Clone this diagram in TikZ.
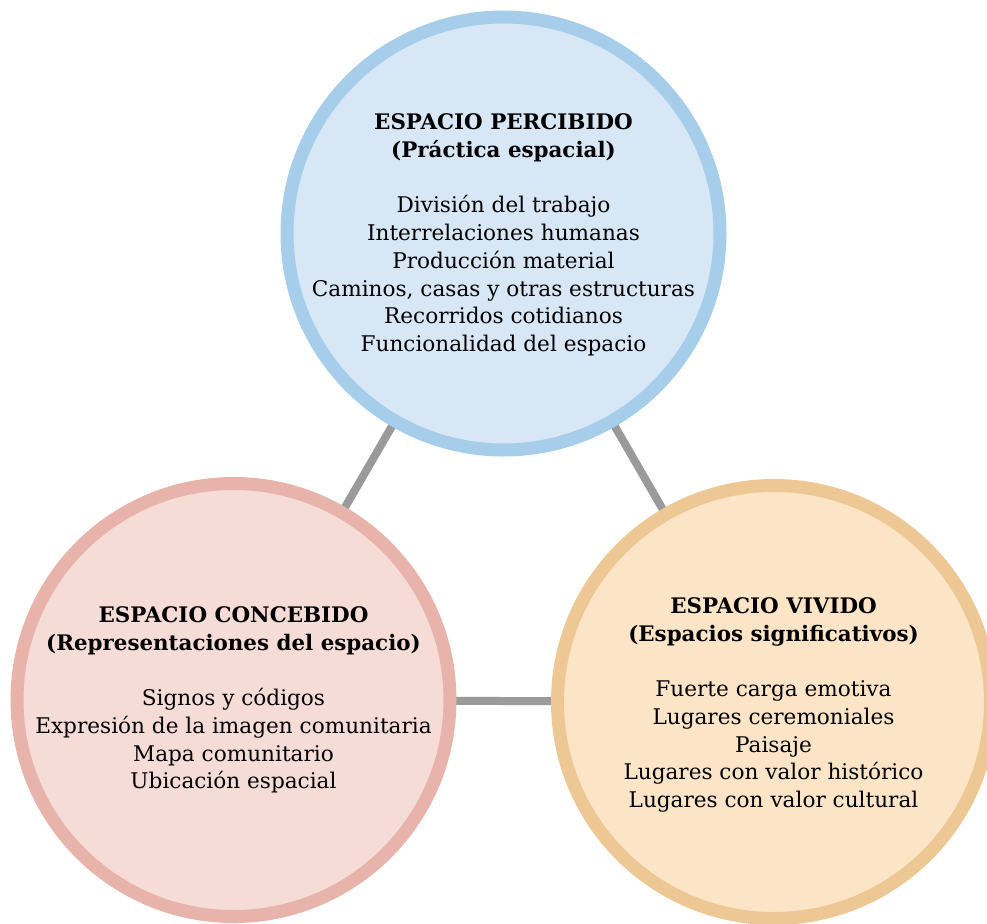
\documentclass[tikz,border=0pt]{standalone}
\usepackage{fontspec}
\setmainfont{DejaVu Serif}
\usetikzlibrary{backgrounds}
\definecolor{bluefill}{HTML}{D7E7F6}
\definecolor{blueline}{HTML}{A6CDE9}
\definecolor{pinkfill}{HTML}{F5DCD7}
\definecolor{pinkline}{HTML}{E8B3AA}
\definecolor{orangefill}{HTML}{FCE5C7}
\definecolor{orangeline}{HTML}{EDC894}
\definecolor{linkgray}{HTML}{9A9A9A}
\tikzset{
  bubble/.style={circle, inner sep=0pt, minimum size=433pt, line width=13pt},
  label text/.style={align=center, font=\fontsize{21.6}{27.7}\selectfont, inner sep=0pt},
  link/.style={draw=linkgray, line width=8pt}
}
\newcommand{\hd}[1]{{\bfseries\fontsize{21.4}{27.7}\selectfont #1}}
\begin{document}
\begin{tikzpicture}[x=1pt,y=-1pt]
\useasboundingbox (0,0) rectangle (987,923);
\node[bubble, fill=bluefill, draw=blueline] (top) at (503.5,233.5) {};
\node[bubble, fill=pinkfill, draw=pinkline] (left) at (233.5,700) {};
\node[bubble, fill=orangefill, draw=orangeline] (right) at (774,702) {};
\begin{scope}[on background layer]
  \draw[link] (top.center) -- (left.center);
  \draw[link] (top.center) -- (right.center);
  \draw[link] (left.center) -- (right.center);
\end{scope}
\node[label text] (toptext) at (503.5,235) {\hd{ESPACIO PERCIBIDO}\\\hd{(Práctica espacial)}\\[27.7pt]
División del trabajo\\Interrelaciones humanas\\Producción material\\Caminos, casas y otras estructuras\\Recorridos cotidianos\\Funcionalidad del espacio};
\node[label text] (lefttext) at (233.5,700) {\hd{ESPACIO CONCEBIDO}\\\hd{(Representaciones del espacio)}\\[27.7pt]
Signos y códigos\\Expresión de la imagen comunitaria\\Mapa comunitario\\Ubicación espacial};
\node[label text] (righttext) at (773.5,705) {\hd{ESPACIO VIVIDO}\\\hd{(Espacios significativos)}\\[27.7pt]
Fuerte carga emotiva\\Lugares ceremoniales\\Paisaje\\Lugares con valor histórico\\Lugares con valor cultural};
\end{tikzpicture}
\end{document}
